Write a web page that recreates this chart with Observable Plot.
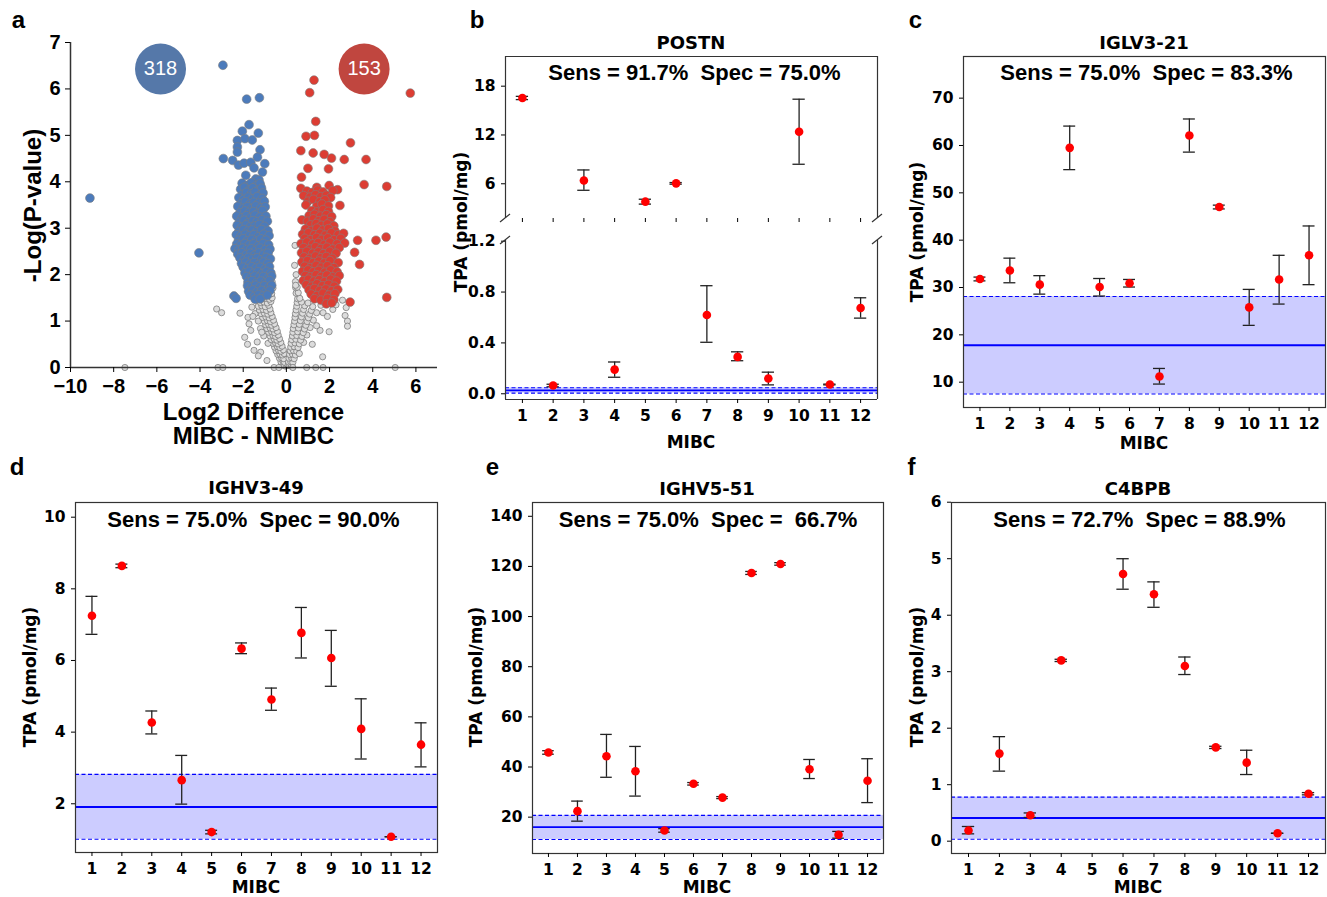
<!DOCTYPE html>
<html><head><meta charset="utf-8">
<script src="https://cdn.jsdelivr.net/npm/d3@7"></script>
<script src="https://cdn.jsdelivr.net/npm/@observablehq/plot@0.6"></script>
<style>
body{margin:0;background:#fff}
#fig{position:relative;width:1327px;height:897px;overflow:hidden;background:#fff}
</style></head>
<body><div id="fig"></div>
<script>
// ---------------- DATA ----------------
// Panel a: volcano (x = log2 difference, y = -log p)
const upPoints = [ // MIBC up (red)
[1.28,6.19],[1.08,5.92],[5.74,5.91],[1.36,5.30],[0.91,4.98],[1.30,5.00],[2.97,4.84],[0.67,4.67],[1.24,4.62],[1.75,4.59],
[2.09,4.51],[2.68,4.48],[3.69,4.48],[1.00,4.29],[1.95,4.28],[0.70,4.10],[3.60,3.94],[4.65,3.90],[0.67,3.86],[1.41,3.88],
[1.98,3.92],[2.37,3.83],[2.48,3.49],[3.30,2.74],[4.15,2.74],[4.62,2.81],[3.16,2.48],[3.39,2.22],[2.95,1.41],[4.65,1.51],
[0.95,3.80],[1.20,3.77],[1.45,3.82],[1.70,3.78],[2.15,3.81],
[0.80,3.70],[1.10,3.67],[1.35,3.72],[1.60,3.68],[1.85,3.71],[2.05,3.66],
[1.00,3.58],[1.25,3.62],[1.55,3.57],[1.78,3.61],
[0.90,3.50],[1.40,3.47],[1.65,3.52],[1.95,3.48],
[1.18,3.38],[1.42,3.35],[1.70,3.40],[1.95,3.36],
[1.05,3.27],[1.30,3.30],[1.58,3.26],[1.85,3.29],[2.10,3.25],
[0.72,3.18],[0.98,3.15],[1.25,3.20],[1.50,3.16],[1.75,3.19],[2.02,3.14],
[1.12,3.07],[1.38,3.10],[1.62,3.06],[1.90,3.09],[2.20,3.05],
[0.88,2.98],[1.15,2.95],[1.42,3.00],[1.68,2.96],[1.95,2.99],[2.25,2.94],
[0.75,2.87],[1.02,2.90],[1.30,2.86],[1.55,2.89],[1.80,2.85],[2.08,2.90],[2.40,2.86],[2.65,2.89],
[0.85,2.78],[1.12,2.75],[1.40,2.80],[1.65,2.76],[1.92,2.79],[2.20,2.75],[2.52,2.78],
[0.68,2.67],[0.95,2.70],[1.22,2.66],[1.48,2.69],[1.75,2.65],[2.02,2.70],[2.35,2.66],[2.70,2.68],
[0.80,2.58],[1.08,2.55],[1.35,2.60],[1.60,2.56],[1.88,2.59],[2.15,2.55],[2.45,2.58],
[0.70,2.47],[0.95,2.50],[1.22,2.46],[1.48,2.49],[1.72,2.45],[2.00,2.50],[2.30,2.46],
[0.82,2.38],[1.08,2.35],[1.35,2.40],[1.60,2.36],[1.85,2.39],[2.12,2.35],
[0.72,2.27],[0.98,2.30],[1.25,2.26],[1.50,2.29],[1.75,2.25],[2.02,2.30],[2.40,2.26],
[0.85,2.18],[1.12,2.15],[1.38,2.20],[1.62,2.16],[1.90,2.19],[2.20,2.15],
[0.75,2.07],[1.00,2.10],[1.25,2.06],[1.50,2.09],[1.78,2.05],[2.05,2.10],[2.35,2.06],
[0.88,1.98],[1.12,1.95],[1.38,2.00],[1.62,1.96],[1.88,1.99],[2.15,1.95],[2.45,1.98],
[0.78,1.87],[1.02,1.90],[1.28,1.86],[1.52,1.89],[1.78,1.85],[2.05,1.90],[2.32,1.86],
[0.92,1.78],[1.18,1.75],[1.42,1.80],[1.68,1.76],[1.95,1.79],[2.22,1.75],
[1.05,1.67],[1.30,1.70],[1.55,1.66],[1.82,1.69],[2.10,1.65],[2.38,1.68],
[1.15,1.58],[1.42,1.55],[1.70,1.60],[1.98,1.56],[2.25,1.59],
[1.30,1.48],[1.60,1.45],[1.90,1.49],[2.20,1.46],[1.85,1.37],[2.10,1.39]
];
const downPoints = [ // MIBC down (blue)
[-2.94,6.51],[-1.84,5.78],[-1.25,5.81],[-1.73,5.23],[-2.04,5.09],[-1.30,5.05],[-2.27,4.89],[-1.92,4.93],[-1.58,4.90],
[-2.27,4.75],[-1.22,4.69],[-2.27,4.64],[-2.92,4.50],[-2.49,4.46],[-2.22,4.36],[-1.96,4.40],[-1.65,4.42],[-1.34,4.53],
[-1.50,4.30],[-1.00,4.39],[-1.11,4.21],[-1.88,4.14],[-1.42,4.06],[-1.27,4.04],[-1.99,3.88],[-1.73,3.78],[-1.34,3.81],
[-1.19,3.90],[-9.10,3.65],[-4.05,2.47],[-2.43,1.54],[-2.33,1.49],[-2.35,2.56],
[-2.05,3.97],[-1.78,3.93],[-1.62,3.98],[-1.40,3.92],[-1.22,3.96],
[-2.12,3.84],[-1.95,3.88],[-1.70,3.83],[-1.55,3.87],[-1.30,3.82],[-1.15,3.86],
[-2.02,3.73],[-1.85,3.77],[-1.62,3.74],[-1.45,3.78],[-1.20,3.72],[-1.08,3.76],
[-2.20,3.66],[-1.98,3.62],[-1.76,3.67],[-1.58,3.63],[-1.35,3.68],[-1.12,3.64],
[-2.10,3.53],[-1.90,3.57],[-1.68,3.52],[-1.50,3.56],[-1.28,3.54],[-1.02,3.58],
[-2.25,3.47],[-2.00,3.43],[-1.80,3.46],[-1.60,3.42],[-1.42,3.48],[-1.18,3.44],[-0.98,3.46],
[-2.15,3.33],[-1.92,3.37],[-1.72,3.34],[-1.52,3.36],[-1.30,3.32],[-1.10,3.38],
[-2.30,3.26],[-2.05,3.22],[-1.85,3.27],[-1.65,3.23],[-1.45,3.28],[-1.22,3.24],[-0.95,3.26],
[-2.18,3.13],[-1.96,3.17],[-1.76,3.12],[-1.56,3.16],[-1.35,3.14],[-1.12,3.18],[-0.88,3.15],
[-2.28,3.06],[-2.08,3.02],[-1.86,3.07],[-1.66,3.03],[-1.46,3.05],[-1.25,3.08],[-1.02,3.04],
[-2.20,2.93],[-1.98,2.97],[-1.78,2.94],[-1.58,2.96],[-1.38,2.92],[-1.15,2.97],[-0.85,2.94],
[-2.32,2.86],[-2.10,2.83],[-1.90,2.87],[-1.70,2.84],[-1.50,2.86],[-1.28,2.82],[-1.05,2.87],[-0.80,2.84],
[-2.22,2.74],[-2.00,2.77],[-1.80,2.73],[-1.60,2.76],[-1.40,2.72],[-1.18,2.77],[-0.95,2.74],
[-2.30,2.66],[-2.12,2.63],[-1.92,2.67],[-1.72,2.64],[-1.52,2.66],[-1.30,2.62],[-1.08,2.67],[-0.82,2.64],
[-2.38,2.56],[-2.20,2.53],[-2.02,2.57],[-1.84,2.54],[-1.64,2.56],[-1.44,2.52],[-1.22,2.57],[-0.98,2.54],[-0.76,2.55],
[-2.25,2.44],[-2.05,2.47],[-1.86,2.43],[-1.66,2.46],[-1.46,2.42],[-1.26,2.47],[-1.05,2.44],[-0.85,2.46],
[-2.15,2.36],[-1.95,2.33],[-1.76,2.37],[-1.56,2.34],[-1.36,2.36],[-1.16,2.32],[-0.94,2.37],[-0.74,2.34],
[-2.08,2.24],[-1.88,2.27],[-1.68,2.23],[-1.48,2.26],[-1.28,2.22],[-1.06,2.27],[-0.86,2.24],
[-2.00,2.16],[-1.80,2.13],[-1.60,2.17],[-1.40,2.14],[-1.20,2.16],[-0.98,2.12],[-0.78,2.17],
[-1.92,2.04],[-1.72,2.07],[-1.52,2.03],[-1.32,2.06],[-1.12,2.02],[-0.92,2.07],[-0.72,2.04],
[-1.85,1.96],[-1.66,1.93],[-1.46,1.97],[-1.26,1.94],[-1.06,1.96],[-0.85,1.92],[-0.68,1.97],
[-1.78,1.84],[-1.58,1.87],[-1.38,1.83],[-1.18,1.86],[-0.98,1.82],[-0.78,1.87],
[-1.80,1.76],[-1.62,1.73],[-1.42,1.77],[-1.22,1.74],[-1.02,1.76],[-0.82,1.72],[-0.68,1.77],
[-1.75,1.64],[-1.55,1.67],[-1.35,1.63],[-1.15,1.66],[-0.95,1.62],[-0.76,1.66],
[-1.68,1.56],[-1.48,1.53],[-1.28,1.57],[-1.08,1.54],[-0.88,1.56],[-1.45,1.47],[-1.22,1.48]
];
const nsPoints = [ // not significant (grey)
[-0.12,0.05],[-0.05,0.03],[-0.20,0.06],[0.02,0.04],[-0.25,0.12],[-0.15,0.13],[-0.08,0.11],
[-0.32,0.20],[-0.22,0.21],[-0.12,0.19],[-0.40,0.28],[-0.30,0.29],[-0.18,0.27],[-0.10,0.30],
[-0.48,0.36],[-0.36,0.37],[-0.25,0.35],[-0.14,0.38],[-0.55,0.44],[-0.42,0.45],[-0.30,0.43],[-0.20,0.46],
[-0.62,0.52],[-0.50,0.53],[-0.38,0.51],[-0.26,0.54],[-0.85,0.52],[-0.70,0.60],[-0.56,0.61],[-0.44,0.59],[-0.32,0.62],
[-0.76,0.68],[-0.62,0.69],[-0.50,0.67],[-0.38,0.70],[-1.05,0.68],[-0.82,0.76],[-0.68,0.77],[-0.55,0.75],[-0.42,0.78],
[-0.90,0.84],[-0.75,0.85],[-0.62,0.83],[-0.48,0.86],[-1.20,0.84],[-0.96,0.92],[-0.82,0.93],[-0.68,0.91],[-0.55,0.94],
[-1.02,1.00],[-0.88,1.01],[-0.74,0.99],[-0.60,1.02],[-1.30,1.00],[-1.10,1.08],[-0.95,1.09],[-0.80,1.07],[-0.66,1.10],
[-1.18,1.16],[-1.02,1.17],[-0.86,1.15],[-0.72,1.18],[-1.45,1.16],[-1.25,1.24],[-1.08,1.25],[-0.92,1.23],[-0.76,1.26],
[-1.30,1.32],[-1.14,1.33],[-0.98,1.31],[-0.82,1.34],[-1.20,1.40],[-1.04,1.41],[-0.88,1.39],[-0.72,1.42],
[-1.10,1.48],[-0.94,1.49],[-0.78,1.47],[-0.66,1.50],[-0.80,1.58],[-0.68,1.59],[-0.72,1.70],[-0.62,1.71],[-0.66,1.85],
[-3.23,1.26],[-3.00,1.18],[-2.15,1.17],[-1.78,1.08],[-1.73,0.94],[-1.65,0.80],[-1.93,0.65],[-1.80,0.50],[-1.50,0.37],
[-1.19,0.33],[-1.14,0.76],[-1.35,0.55],[-1.60,1.30],[-1.55,1.10],[-1.30,0.25],[-0.90,0.15],[-7.48,0.00],[-3.17,0.00],
[-2.94,0.00],[-0.57,0.00],[-0.35,0.00],
[0.08,0.05],[0.15,0.04],[0.22,0.06],[0.10,0.12],[0.20,0.13],[0.30,0.11],[0.12,0.20],[0.24,0.21],[0.36,0.19],
[0.15,0.28],[0.28,0.29],[0.42,0.27],[0.18,0.36],[0.32,0.37],[0.48,0.35],[0.20,0.44],[0.36,0.45],[0.54,0.43],
[0.22,0.52],[0.40,0.53],[0.60,0.51],[0.80,0.54],[0.25,0.60],[0.44,0.61],[0.66,0.59],[0.28,0.68],[0.48,0.69],[0.72,0.67],[0.95,0.70],
[0.30,0.76],[0.52,0.77],[0.78,0.75],[0.32,0.84],[0.56,0.85],[0.84,0.83],[1.10,0.86],[0.35,0.92],[0.60,0.93],[0.90,0.91],
[0.38,1.00],[0.65,1.01],[0.96,0.99],[1.25,1.02],[0.40,1.08],[0.70,1.09],[1.02,1.07],[0.42,1.16],[0.75,1.17],[1.08,1.15],[1.40,1.18],
[0.45,1.24],[0.80,1.25],[1.15,1.23],[0.48,1.32],[0.85,1.33],[1.22,1.31],[1.60,1.34],[0.50,1.40],[0.70,1.41],[1.00,1.39],
[0.52,1.48],[0.62,1.49],[0.45,1.60],[0.55,1.61],[0.43,1.72],[0.50,1.73],[0.42,1.85],[0.45,2.00],[0.38,2.20],
[0.40,2.63],[0.43,1.77],[1.68,0.23],[1.98,0.77],[1.56,0.80],[2.77,1.29],[2.83,1.00],[2.83,0.89],[2.72,1.12],
[2.15,1.25],[1.70,1.18],[1.90,1.10],[1.40,0.90],[1.20,0.50],[0.94,0.00],[1.36,0.00],[1.70,0.00],[5.04,0.00],
[0.30,0.00],[0.60,0.30],[2.30,1.35],[2.60,1.45]
];
const bubbleX = [-5.83, 3.60];
const bubbleY = [6.43, 6.43];
const bubbleCount = ["318", "153"];
const volcanoXTicks = [-10, -8, -6, -4, -2, 0, 2, 4, 6];
const volcanoYTicks = [0, 1, 2, 3, 4, 5, 6, 7];

// Panels b-f: TPA per MIBC sample
const samples = [1, 2, 3, 4, 5, 6, 7, 8, 9, 10, 11, 12];
const proteins = ["POSTN", "IGLV3-21", "IGHV3-49", "IGHV5-51", "C4BPB"];
const sensSpec = ["Sens = 91.7%  Spec = 75.0%", "Sens = 75.0%  Spec = 83.3%", "Sens = 75.0%  Spec = 90.0%", "Sens = 75.0%  Spec =  66.7%", "Sens = 72.7%  Spec = 88.9%"];

const postnVal = [16.55, 0.065, 6.4, 0.19, 3.8, 6.05, 0.62, 0.29, 0.12, 12.4, 0.073, 0.675];
const postnLo  = [16.35, 0.055, 5.2, 0.13, 3.5, 5.95, 0.405, 0.26, 0.07, 8.4, 0.070, 0.595];
const postnHi  = [16.75, 0.075, 7.7, 0.25, 4.1, 6.15, 0.85, 0.33, 0.17, 16.4, 0.076, 0.755];
const postnBand = {mean: 0.026, low: 0.005, high: 0.047};

const iglvVal = [31.8, 33.6, 30.6, 59.5, 30.1, 30.9, 11.2, 62.1, 47.0, 25.8, 31.7, 36.8];
const iglvLo  = [31.4, 31.0, 28.6, 54.9, 28.2, 30.1, 9.6, 58.6, 46.6, 22.0, 26.5, 30.6];
const iglvHi  = [32.2, 36.2, 32.5, 64.1, 31.9, 31.7, 12.9, 65.6, 47.4, 29.6, 36.8, 43.0];
const iglvBand = {mean: 17.8, low: 7.5, high: 28.1};

const ighv349Val = [7.25, 8.64, 4.27, 2.66, 1.21, 6.33, 4.91, 6.77, 6.07, 4.09, 1.08, 3.65];
const ighv349Lo  = [6.73, 8.59, 3.95, 1.99, 1.16, 6.19, 4.61, 6.07, 5.28, 3.25, 1.08, 3.03];
const ighv349Hi  = [7.79, 8.69, 4.59, 3.35, 1.26, 6.49, 5.23, 7.48, 6.84, 4.93, 1.08, 4.26];
const ighv349Band = {mean: 1.91, low: 1.01, high: 2.82};

const ighv551Val = [45.8, 22.4, 44.3, 38.3, 14.7, 33.3, 27.8, 117.4, 121.0, 39.1, 13.0, 34.5];
const ighv551Lo  = [45.1, 18.4, 35.9, 28.4, 14.0, 32.8, 27.4, 116.8, 120.5, 35.4, 11.6, 25.8];
const ighv551Hi  = [46.5, 26.4, 53.0, 48.2, 15.4, 33.8, 28.2, 118.0, 121.5, 43.0, 14.3, 43.3];
const ighv551Band = {mean: 16.0, low: 11.1, high: 20.7};

const c4bpbVal = [0.19, 1.55, 0.46, 3.20, null, 4.73, 4.37, 3.10, 1.66, 1.39, 0.14, 0.84];
const c4bpbLo  = [0.13, 1.24, 0.42, 3.18, null, 4.46, 4.14, 2.95, 1.64, 1.18, 0.14, 0.82];
const c4bpbHi  = [0.26, 1.85, 0.50, 3.22, null, 5.00, 4.59, 3.26, 1.68, 1.61, 0.14, 0.86];
const c4bpbBand = {mean: 0.41, low: 0.035, high: 0.78};

const ticksPostnUpper = [6, 12, 18];
const ticksPostnLower = [0, 0.4, 0.8, 1.2];
const ticksIglv = [10, 20, 30, 40, 50, 60, 70];
const ticksIghv349 = [2, 4, 6, 8, 10];
const ticksIghv551 = [20, 40, 60, 80, 100, 120, 140];
const ticksC4bpb = [0, 1, 2, 3, 4, 5, 6];

// ---------------- DRAWING ----------------
const fig = document.getElementById("fig");
function put(node, left, top) {
  node.style.position = "absolute";
  node.style.left = left + "px";
  node.style.top = top + "px";
  node.style.maxWidth = "none";
  fig.appendChild(node);
  return node;
}
const SPINE = "#333";
const xDom = [0.45, 12.55];
const capHalf = 0.2;
const intFmt = d => String(d);

function rowsOf(val, lo, hi, dom) {
  return samples.map((id, i) => ({id, v: val[i], lo: lo[i], hi: hi[i]}))
    .filter(d => d.v != null && d.v >= dom[0] && d.v <= dom[1]);
}

function tpaMarks(rows, band) {
  const m = [];
  if (band) {
    m.push(Plot.rect([band], {x1: () => xDom[0], x2: () => xDom[1], y1: "low", y2: "high", fill: "#ccccff"}));
    m.push(Plot.ruleY([band], {y: "mean", stroke: "#0000ff", strokeWidth: 1.8}));
    m.push(Plot.ruleY([band], {y: "low", stroke: "#0000ff", strokeWidth: 1.1, strokeDasharray: "4,2.5"}));
    m.push(Plot.ruleY([band], {y: "high", stroke: "#0000ff", strokeWidth: 1.1, strokeDasharray: "4,2.5"}));
  }
  m.push(Plot.ruleX(rows, {x: "id", y1: "lo", y2: "hi", stroke: "#222", strokeWidth: 1.3}));
  m.push(Plot.ruleY(rows, {y: "lo", x1: d => d.id - capHalf, x2: d => d.id + capHalf, stroke: "#222", strokeWidth: 1.3}));
  m.push(Plot.ruleY(rows, {y: "hi", x1: d => d.id - capHalf, x2: d => d.id + capHalf, stroke: "#222", strokeWidth: 1.3}));
  m.push(Plot.dot(rows, {x: "id", y: "v", r: 4.3, fill: "#ff0000", stroke: "none"}));
  return m;
}
const tpaStyle = {fontFamily: "DejaVu Sans", fontSize: "15.5px", fontWeight: "bold", color: "#000", background: "transparent", overflow: "visible"};

function tpaPanel({left, top, width, height, mt, mr, mb, ml, yDom, yTicks, val, lo, hi, band, fmt}) {
  const rows = rowsOf(val, lo, hi, yDom);
  const p = Plot.plot({
    width, height, marginTop: mt, marginRight: mr, marginBottom: mb, marginLeft: ml,
    style: tpaStyle,
    x: {domain: xDom}, y: {domain: yDom},
    marks: [
      ...tpaMarks(rows, band),
      Plot.frame({stroke: SPINE, strokeWidth: 1.2}),
      Plot.axisX({ticks: samples, tickSize: 4, tickPadding: 6, label: null, tickFormat: intFmt}),
      Plot.axisY({ticks: yTicks, tickSize: 4, tickPadding: 6, label: null, tickFormat: fmt || intFmt})
    ]
  });
  return put(p, left, top);
}

// ---- Panel a: volcano ----
const bubbles = bubbleX.map((x, i) => ({x, y: bubbleY[i], t: bubbleCount[i], c: i === 0 ? "#5578a9" : "#c0463f"}));
const volcano = Plot.plot({
  width: 450, height: 450, marginTop: 42, marginRight: 13, marginBottom: 83, marginLeft: 70,
  style: {fontFamily: "Liberation Sans", fontSize: "20px", fontWeight: "bold", color: "#000", background: "transparent", overflow: "visible"},
  x: {domain: [-10, 7]}, y: {domain: [0, 7]},
  marks: [
    Plot.dot(nsPoints, {x: d => d[0], y: d => d[1], r: 3.1, fill: "#dcdcdc", stroke: "#6e6e6e", strokeWidth: 0.7}),
    Plot.dot(downPoints, {x: d => d[0], y: d => d[1], r: 4.4, fill: "#4c7bbb", stroke: "#7d7d7d", strokeWidth: 0.6}),
    Plot.dot(upPoints, {x: d => d[0], y: d => d[1], r: 4.4, fill: "#dc3d33", stroke: "#7d7d7d", strokeWidth: 0.6}),
    Plot.dot(bubbles, {x: "x", y: "y", r: 25.5, fill: "c", stroke: "none"}),
    Plot.text(bubbles, {x: "x", y: "y", text: "t", fill: "white", fontSize: 20, fontWeight: "normal", fontFamily: "Liberation Sans"}),
    Plot.ruleX([-10], {stroke: SPINE, strokeWidth: 1.5}),
    Plot.ruleY([0], {stroke: SPINE, strokeWidth: 1.5}),
    Plot.axisY({ticks: volcanoYTicks, tickSize: 5, tickPadding: 5, label: null, tickFormat: intFmt}),
    Plot.axisX({ticks: volcanoXTicks, tickSize: 5, tickPadding: 6, label: null, tickFormat: d => d < 0 ? "\u2212" + Math.abs(d) : String(d)})
  ]
});
put(volcano, 0, 0);

// ---- Panel b: POSTN broken axis ----
const upDom = [1.73, 21.65], lowDom = [-0.045, 1.2055];
const upRows = rowsOf(postnVal, postnLo, postnHi, [lowDom[1], upDom[1]]);
const lowRows = rowsOf(postnVal, postnLo, postnHi, lowDom);
const bUp = Plot.plot({
  width: 450, height: 230, marginTop: 56, marginRight: 13, marginBottom: 12, marginLeft: 65,
  style: tpaStyle, x: {domain: xDom}, y: {domain: upDom},
  marks: [
    ...tpaMarks(upRows, null),
    Plot.ruleX(xDom, {stroke: SPINE, strokeWidth: 1.2}),
    Plot.ruleY([upDom[1]], {stroke: SPINE, strokeWidth: 1.2}),
    Plot.axisX({ticks: samples, tickSize: 4, tickPadding: 6, label: null, tickFormat: () => ""}),
    Plot.axisY({ticks: ticksPostnUpper, tickSize: 4, tickPadding: 6, label: null, tickFormat: intFmt})
  ]
});
put(bUp, 440, 0);
const bLow = Plot.plot({
  width: 450, height: 230, marginTop: 10, marginRight: 13, marginBottom: 61, marginLeft: 65,
  style: tpaStyle, x: {domain: xDom}, y: {domain: lowDom},
  marks: [
    ...tpaMarks(lowRows, postnBand),
    Plot.ruleX(xDom, {stroke: SPINE, strokeWidth: 1.2}),
    Plot.ruleY([lowDom[0]], {stroke: SPINE, strokeWidth: 1.2}),
    Plot.axisX({ticks: samples, tickSize: 4, tickPadding: 6, label: null, tickFormat: intFmt}),
    Plot.axisY({ticks: ticksPostnLower, tickSize: 4, tickPadding: 6, label: null, tickFormat: d => d.toFixed(1)})
  ]
});
put(bLow, 440, 230);
// axis-break marks
function breakMarks(svg, yEdge, xs) {
  const s = d3.select(svg);
  for (const x of xs) {
    s.append("line").attr("x1", x - 5).attr("y1", yEdge + 4).attr("x2", x + 5).attr("y2", yEdge - 4)
      .attr("stroke", SPINE).attr("stroke-width", 1.2);
  }
}
breakMarks(bUp, 218, [65, 437]);
breakMarks(bLow, 10, [65, 437]);

// ---- Panels c-f ----
tpaPanel({left: 890, top: 0, width: 437, height: 460, mt: 56, mr: 2, mb: 53, ml: 73, yDom: [4.65, 78.8], yTicks: ticksIglv, val: iglvVal, lo: iglvLo, hi: iglvHi, band: iglvBand});
tpaPanel({left: 0, top: 460, width: 450, height: 437, mt: 42, mr: 13, mb: 45, ml: 75, yDom: [0.64, 10.41], yTicks: ticksIghv349, val: ighv349Val, lo: ighv349Lo, hi: ighv349Hi, band: ighv349Band});
tpaPanel({left: 450, top: 460, width: 450, height: 437, mt: 42, mr: 17, mb: 44, ml: 82, yDom: [5.5, 145.5], yTicks: ticksIghv551, val: ighv551Val, lo: ighv551Lo, hi: ighv551Hi, band: ighv551Band});
tpaPanel({left: 890, top: 460, width: 437, height: 437, mt: 42, mr: 2, mb: 44, ml: 61, yDom: [-0.218, 5.995], yTicks: ticksC4bpb, val: c4bpbVal, lo: c4bpbLo, hi: c4bpbHi, band: c4bpbBand});

// ---------------- TEXT OVERLAY ----------------
const ov = d3.select(fig).append("svg").attr("width", 1327).attr("height", 897)
  .style("position", "absolute").style("left", "0px").style("top", "0px").style("pointer-events", "none");
function txt(s, x, y, size, fam, rot = false, weight = "bold") {
  ov.append("text").attr("transform", `translate(${x},${y})` + (rot ? " rotate(-90)" : ""))
    .attr("text-anchor", "middle").attr("font-family", fam).attr("font-size", size)
    .attr("font-weight", weight).attr("fill", "#000").style("white-space", "pre").text(s);
}
const ARIAL = "Liberation Sans, Arial, sans-serif";
const DJV = "DejaVu Sans, sans-serif";
// panel letters
const panelLetters = ["a", "b", "c", "d", "e", "f"];
const letterPos = [[18.5, 28], [477, 28], [915.5, 28], [17, 475], [492.5, 475], [911.5, 475]];
panelLetters.forEach((l, i) => txt(l, letterPos[i][0], letterPos[i][1], 24, ARIAL));
// volcano labels
txt("-Log(P-value)", 41, 205.5, 24, ARIAL, true);
txt("Log2 Difference", 253.5, 419.6, 24, ARIAL);
txt("MIBC - NMIBC", 253.5, 444, 24, ARIAL);
// TPA panels: [titleX, titleBase, sensX, sensBase, yLabX, yLabY, xLabBase]
const panelText = [
  [691, 48.6, 694.5, 80.4, 467, 222, 448.2],
  [1144, 48.6, 1146.5, 80.4, 923, 232, 449.2],
  [256, 493.6, 253.5, 526.9, 35.5, 677, 893.2],
  [707, 494.6, 708, 526.9, 481.5, 677, 893.2],
  [1138, 494.6, 1139.5, 526.9, 923, 677, 893.2]
];
panelText.forEach((p, i) => {
  txt(proteins[i], p[0], p[1], 18, DJV);
  txt(sensSpec[i], p[2], p[3], 22, ARIAL);
  txt("TPA (pmol/mg)", p[4], p[5], 17, DJV, true);
  txt("MIBC", p[0], p[6], 17, DJV);
});
</script>
</body></html>
